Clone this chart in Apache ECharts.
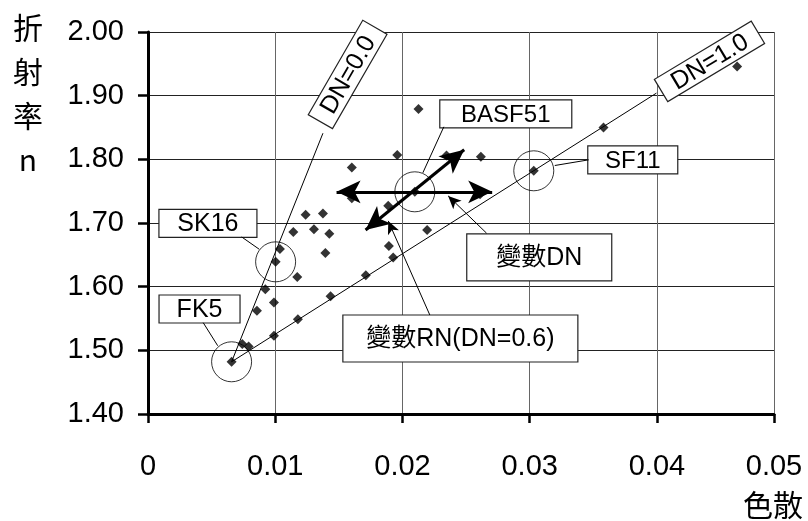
<!DOCTYPE html>
<html>
<head>
<meta charset="utf-8">
<script src="https://cdn.jsdelivr.net/npm/echarts@6/dist/echarts.min.js"></script>
<style>
html,body{margin:0;padding:0;background:#fff}
#main{width:808px;height:521px}
</style>
</head>
<body>
<div id="main"></div>
<script>
// glass catalogue: dispersion vs refractive index n
var dispersion = [0.00657, 0.00741, 0.00791, 0.00856, 0.00922, 0.0099, 0.0099, 0.01003, 0.01037, 0.01142,
    0.01173, 0.01178, 0.01239, 0.01304, 0.01375, 0.01394, 0.01425, 0.01435, 0.01602, 0.01602,
    0.01712, 0.01888, 0.01893, 0.01927, 0.01959, 0.02097, 0.02126, 0.02194, 0.02346, 0.02616,
    0.02610, 0.03032, 0.0358, 0.0463];
var refractiveIndex = [1.482, 1.510, 1.506, 1.562, 1.596, 1.575, 1.523, 1.639, 1.659, 1.686,
    1.615, 1.549, 1.713, 1.690, 1.715, 1.653, 1.683, 1.585, 1.787, 1.739,
    1.618, 1.727, 1.664, 1.646, 1.807, 1.749, 1.879, 1.689, 1.806, 1.804,
    1.745, 1.782, 1.850, 1.946];
var xTickLabels = ['0', '0.01', '0.02', '0.03', '0.04', '0.05'];
var yTickLabels = ['1.40', '1.50', '1.60', '1.70', '1.80', '1.90', '2.00'];
var markedGlass = ['FK5', 'SK16', 'BASF51', 'SF11'];
var markedIndex = [0, 7, 25, 31];

// DN = 0.0 and DN = 1.0 lines
var dn0X = [0.00657, 0.01375], dn0Y = [1.482, 1.841];
var dn1X = [0.00657, 0.03996], dn1Y = [1.482, 1.904];
// double arrows: "variable DN" (horizontal) and "variable RN" (diagonal)
var arrowDNX = [0.01482, 0.02705], arrowDNY = [1.749, 1.749];
var arrowRNX = [0.0171, 0.02485], arrowRNY = [1.689, 1.815];

var latin = "'Liberation Sans', Arial, sans-serif";
var mixed = "'Liberation Sans', 'Noto Sans CJK TC', sans-serif";
var cjk = "'Noto Sans CJK TC', sans-serif";

// label boxes, anchored in data coords
var notes = [
    {text: 'FK5', at: [0.00405, 1.5649], w: 81, h: 28, rot: 0, fs: 25},
    {text: 'SK16', at: [0.00471, 1.6994], w: 98, h: 28, rot: 0, fs: 25},
    {text: 'BASF51', at: [0.02812, 1.8714], w: 132, h: 28, rot: 0, fs: 24},
    {text: 'SF11', at: [0.0381, 1.7990], w: 90, h: 28, rot: 0, fs: 24},
    {text: '變數DN', at: [0.03075, 1.6459], w: 145, h: 47, rot: 0, fs: 25},
    {text: '變數RN(DN=0.6)', at: [0.02455, 1.5186], w: 235, h: 47, rot: 0, fs: 25},
    {text: 'DN=0.0', at: [0.01569, 1.9333], w: 109, h: 28, rot: 60, fs: 25},
    {text: 'DN=1.0', at: [0.04413, 1.9538], w: 113, h: 26, rot: 31, fs: 25}
];
// leader lines from boxes
var leaders = [
    [[0.02325, 1.8511], [0.0216, 1.7788]],
    [[0.03464, 1.7992], [0.03197, 1.7903]],
    [[0.00736, 1.6781], [0.00874, 1.6588]],
    [[0.00434, 1.5434], [0.00548, 1.5072]]
];
var pointers = [
    [[0.02661, 1.6840], [0.02359, 1.7426]],
    [[0.02215, 1.5555], [0.01888, 1.7033]]
];

var dom = document.getElementById('main');
var myChart = echarts.init(dom);

var pts = [];
for (var i = 0; i < dispersion.length; i++) {
    pts.push([dispersion[i], refractiveIndex[i]]);
}
var circled = [];
for (var j = 0; j < markedIndex.length; j++) {
    circled.push({name: markedGlass[j], value: pts[markedIndex[j]]});
}
function pairs(xs, ys) {
    var out = [];
    for (var k = 0; k < xs.length; k++) out.push([xs[k], ys[k]]);
    return out;
}

var lineList = [];
leaders.forEach(function (l) {
    lineList.push([{coord: l[0], symbol: 'none'}, {coord: l[1], symbol: 'none'}]);
});
pointers.forEach(function (l) {
    lineList.push([{coord: l[0], symbol: 'none'}, {coord: l[1], symbol: 'arrow', symbolSize: [9, 13]}]);
});
var bigArrows = [
    [{coord: [arrowDNX[0], arrowDNY[0]]}, {coord: [arrowDNX[1], arrowDNY[1]]}],
    [{coord: [arrowRNX[0], arrowRNY[0]]}, {coord: [arrowRNX[1], arrowRNY[1]]}]
];

var option = {
    animation: false,
    grid: {left: 148, right: 34, top: 32, bottom: 107},
    xAxis: {
        type: 'value', min: 0, max: 0.0492, interval: 0.01,
        axisLine: {lineStyle: {color: '#000', width: 3}},
        axisTick: {length: 9, lineStyle: {color: '#000', width: 2.5}},
        axisLabel: {
            margin: 38, color: '#000', fontSize: 29, fontFamily: latin,
            formatter: function (v) { return xTickLabels[Math.round(v / 0.01)]; }
        },
        splitLine: {show: true, lineStyle: {color: '#666', width: 1}}
    },
    yAxis: {
        type: 'value', min: 1.4, max: 2.0, interval: 0.1,
        axisLine: {show: true, lineStyle: {color: '#000', width: 3}},
        axisTick: {show: true, length: 10, lineStyle: {color: '#000', width: 2.5}},
        axisLabel: {
            margin: 24, color: '#000', fontSize: 29, fontFamily: latin,
            formatter: function (v) { return yTickLabels[Math.round((v - 1.4) / 0.1)]; }
        },
        splitLine: {show: true, lineStyle: {color: '#222', width: 1}}
    },
    series: [
        {
            type: 'line', data: pairs(dn0X, dn0Y), symbol: 'none', silent: true,
            lineStyle: {color: '#000', width: 1}
        },
        {
            type: 'line', data: pairs(dn1X, dn1Y), symbol: 'none', silent: true,
            lineStyle: {color: '#000', width: 1}
        },
        {
            type: 'scatter', data: pts, symbol: 'diamond', symbolSize: 10, silent: true,
            itemStyle: {color: '#000'}
        },
        {
            type: 'scatter', data: circled, symbol: 'circle', symbolSize: 40, silent: true,
            itemStyle: {color: 'rgba(0,0,0,0)', borderColor: '#000', borderWidth: 1},
            markLine: {
                silent: true, symbol: ['none', 'none'], label: {show: false},
                lineStyle: {color: '#000', width: 1, type: 'solid'},
                data: lineList
            }
        },
        {
            type: 'scatter', data: [], silent: true,
            markLine: {
                silent: true, symbol: ['arrow', 'arrow'], symbolSize: [17, 24], label: {show: false},
                lineStyle: {color: '#000', width: 3, type: 'solid'},
                data: bigArrows
            }
        }
    ]
};
myChart.setOption(option);

var items = notes.map(function (a) {
    var p = myChart.convertToPixel({gridIndex: 0}, a.at);
    return {
        type: 'group', x: p[0], y: p[1], rotation: a.rot * Math.PI / 180, z: 100,
        children: [
            {type: 'rect', shape: {x: -a.w / 2, y: -a.h / 2, width: a.w, height: a.h},
                style: {fill: '#fff', stroke: '#222', lineWidth: 1.2}},
            {type: 'text', style: {text: a.text, x: 0, y: 1, align: 'center', verticalAlign: 'middle',
                textAlign: 'center', textVerticalAlign: 'middle',
                fontSize: a.fs, fontFamily: mixed, fill: '#000'}}
        ]
    };
});
items.push({
    type: 'text', x: 28, y: 6, z: 100,
    style: {text: '折\n射\n率\nn', align: 'center', textAlign: 'center', lineHeight: 44,
        fontSize: 30, fontFamily: cjk, fill: '#000'}
});
items.push({
    type: 'text', x: 803, y: 505, z: 100,
    style: {text: '色散', align: 'right', textAlign: 'right', verticalAlign: 'middle', textVerticalAlign: 'middle',
        fontSize: 30, fontFamily: cjk, fill: '#000'}
});
myChart.setOption({graphic: items});
</script>
</body>
</html>
